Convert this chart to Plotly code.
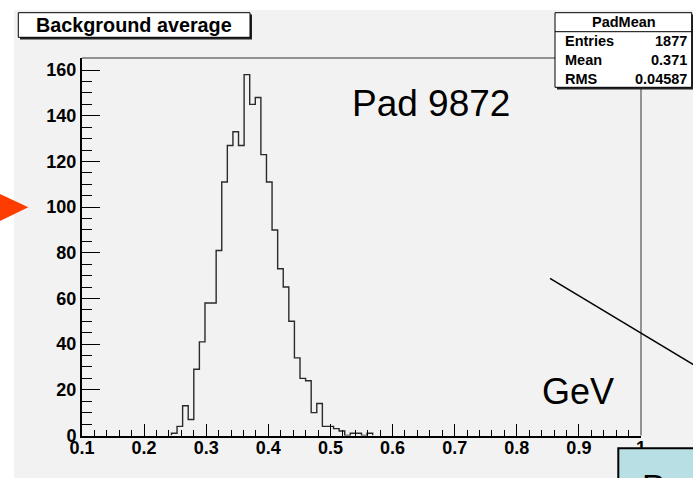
import plotly.graph_objects as go

# ---- data -----------------------------------------------------------
HIST_XMIN = 0.244          # low edge of first listed bin
BIN_WIDTH = 0.009
COUNTS = [1, 4, 13, 7, 29, 41, 58, 58, 81, 111, 127, 133, 127, 158, 145, 148,
          123, 111, 90, 73, 65, 50, 34, 25, 24, 10, 14, 4, 4, 3, 2, 0, 1, 1, 0, 1]
X_TICKS = [0.1, 0.2, 0.3, 0.4, 0.5, 0.6, 0.7, 0.8, 0.9, 1.0]
X_TICK_TEXT = ["0.1", "0.2", "0.3", "0.4", "0.5", "0.6", "0.7", "0.8", "0.9", "1"]
Y_TICKS = [0, 20, 40, 60, 80, 100, 120, 140, 160]
STAT_NAMES = ["Entries", "Mean", "RMS"]
STAT_VALUES = ["1877", "0.371", "0.04587"]
HIST_NAME = "PadMean"
TITLE = "Background average"

W, H = 693, 478


def px(x):
    return x / W


def py(y):
    return 1 - y / H


edges = [HIST_XMIN + i * BIN_WIDTH for i in range(len(COUNTS) + 1)]
xs = [edges[0]] + edges[:-1] + [edges[-1]]
ys = [0] + COUNTS + [0]

fig = go.Figure()
fig.add_trace(go.Scatter(x=xs, y=ys, mode="lines", line_shape="hv",
                         line=dict(color="#2a2a2a", width=1.4),
                         hoverinfo="skip", showlegend=False))

GREY = "#f2f2f2"
bold = dict(family="Liberation Sans, Arial, sans-serif", size=18, color="black", weight="bold")

X0, X1 = 82, 641
YB, YT = 435.5, 58

fig.update_layout(
    width=W, height=H, margin=dict(l=0, r=0, t=0, b=0, autoexpand=False),
    paper_bgcolor="white", plot_bgcolor=GREY,
    xaxis=dict(domain=[px(X0), px(X1)], range=[0.1, 1.0], tickvals=X_TICKS,
               ticktext=X_TICK_TEXT, ticks="inside", ticklen=12, tickwidth=1,
               tickcolor="black", showgrid=False, zeroline=False, automargin=False,
               showline=True, linewidth=2, linecolor="black",
               tickfont=bold, ticklabelstandoff=-5,
               minor=dict(dtick=0.02, ticks="inside", ticklen=6, tickcolor="black",
                          tickwidth=1, showgrid=False)),
    yaxis=dict(domain=[py(YB), py(YT)], range=[0, 165.3], tickvals=Y_TICKS,
               ticks="inside", ticklen=18, tickwidth=1, tickcolor="black",
               showgrid=False, zeroline=False, showline=True, linewidth=2,
               linecolor="black", tickfont=bold, automargin=False,
               minor=dict(dtick=5, ticks="inside", ticklen=10, tickcolor="black",
                          tickwidth=1, showgrid=False)),
)

shapes = []
# grey canvas
shapes.append(dict(type="rect", xref="paper", yref="paper", x0=px(14), x1=px(700),
                   y0=py(10), y1=py(480), fillcolor=GREY, line=dict(width=0), layer="below"))
# frame top and right
shapes.append(dict(type="line", xref="paper", yref="paper", x0=px(X0), x1=px(X1),
                   y0=py(YT), y1=py(YT), line=dict(color="#333", width=1)))
shapes.append(dict(type="line", xref="paper", yref="paper", x0=px(X1), x1=px(X1),
                   y0=py(YT), y1=py(YB), line=dict(color="#333", width=1)))
# title box with shadow
shapes.append(dict(type="rect", xref="paper", yref="paper", x0=px(20), x1=px(252),
                   y0=py(39.5), y1=py(14.5), fillcolor="#222", line=dict(width=0)))
shapes.append(dict(type="rect", xref="paper", yref="paper", x0=px(18.3), x1=px(250),
                   y0=py(37.3), y1=py(12.7), fillcolor="white", line=dict(color="black", width=1)))
# stats box with shadow
shapes.append(dict(type="rect", xref="paper", yref="paper", x0=px(557), x1=px(700),
                   y0=py(89.5), y1=py(14.5), fillcolor="#222", line=dict(width=0)))
shapes.append(dict(type="rect", xref="paper", yref="paper", x0=px(555), x1=px(691.7),
                   y0=py(87.3), y1=py(12.7), fillcolor="white", line=dict(color="black", width=1)))
shapes.append(dict(type="line", xref="paper", yref="paper", x0=px(555), x1=px(691.7),
                   y0=py(31.7), y1=py(31.7), line=dict(color="black", width=1)))
# red triangle marker from slide
shapes.append(dict(type="path", xref="paper", yref="paper",
                   path=f"M {px(-2)},{py(193)} L {px(28.3)},{py(207.3)} L {px(-2)},{py(222)} Z",
                   fillcolor="#ff3c00", line=dict(width=0)))
# slide connector line
shapes.append(dict(type="line", xref="paper", yref="paper", x0=px(550), y0=py(278.3),
                   x1=px(700), y1=py(368.5), line=dict(color="black", width=1.5)))
# cyan callout box
shapes.append(dict(type="rect", xref="paper", yref="paper", x0=px(618.3), x1=px(705),
                   y0=py(490), y1=py(448.3), fillcolor="#b8e0e4", line=dict(color="black", width=2)))
fig.update_layout(shapes=shapes)

ann = []
ann.append(dict(text=TITLE, x=px(134), y=py(25), xref="paper", yref="paper",
                showarrow=False, xanchor="center", yanchor="middle",
                font=dict(family="Liberation Sans, Arial, sans-serif", size=19.8,
                          color="black", weight="bold")))
sfont = dict(family="Liberation Sans, Arial, sans-serif", size=14.5, color="black", weight="bold")
ann.append(dict(text=HIST_NAME, x=px(624), y=py(22), xref="paper", yref="paper",
                showarrow=False, xanchor="center", yanchor="middle", font=sfont))
row_y = [41.5, 60.5, 79]
for name, val, yy in zip(STAT_NAMES, STAT_VALUES, row_y):
    ann.append(dict(text=name, x=px(562.5), y=py(yy), xref="paper", yref="paper",
                    showarrow=False, xanchor="left", yanchor="middle", font=sfont))
    ann.append(dict(text=val, x=px(689), y=py(yy), xref="paper", yref="paper",
                    showarrow=False, xanchor="right", yanchor="middle", font=sfont))
ann.append(dict(text="Pad 9872", x=px(350), y=py(103.5), xref="paper", yref="paper",
                showarrow=False, xanchor="left", yanchor="middle",
                font=dict(family="Liberation Sans, Arial, sans-serif", size=37, color="black")))
ann.append(dict(text="GeV", x=px(540), y=py(391), xref="paper", yref="paper",
                showarrow=False, xanchor="left", yanchor="middle",
                font=dict(family="Liberation Sans, Arial, sans-serif", size=36, color="black")))
ann.append(dict(text="P", x=px(640), y=py(465), xref="paper", yref="paper",
                showarrow=False, xanchor="left", yanchor="top", font=dict(
                    family="Liberation Sans, Arial, sans-serif", size=34, color="black")))
fig.update_layout(annotations=ann)

fig.write_html("out.html")
